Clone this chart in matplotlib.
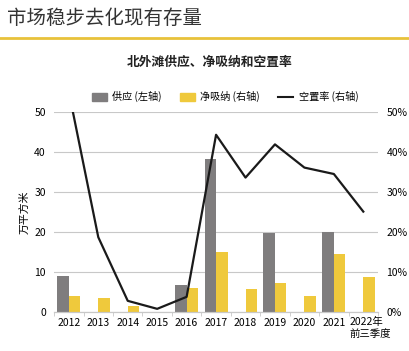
import matplotlib
matplotlib.use("Agg")
import matplotlib.pyplot as plt
from matplotlib.lines import Line2D
from matplotlib.patches import Patch
from matplotlib.transforms import blended_transform_factory
import numpy

plt.rcParams["font.family"] = ["Noto Sans CJK SC", "DejaVu Sans"]

# Data
years = ["2012", "2013", "2014", "2015", "2016", "2017", "2018", "2019",
         "2020", "2021", "2022年\n前三季度"]
supply = [9.1, 0, 0, 0, 6.7, 38.2, 0, 19.7, 0, 20.0, 0]           # 万平方米
absorption = [4.1, 3.4, 1.5, 0.1, 6.1, 14.9, 5.8, 7.2, 4.1, 14.5, 8.8]
vacancy = [55.0, 18.7, 2.8, 0.8, 3.8, 44.3, 33.6, 41.9, 36.1, 34.5, 25.1]  # %

GRAY = "#7f7d7e"
YELLOW = "#efc93c"
GRID = "#c8c8c8"

fig = plt.figure(figsize=(4.10, 3.51), dpi=100, facecolor="white")

# Header
fig.text(0.018, 0.948, "市场稳步去化现有存量", fontsize=14, color="#333333",
         ha="left", va="center")
fig.add_artist(Line2D([0, 1], [0.892, 0.892], color="#e8c23a", linewidth=2))
fig.text(0.512, 0.823, "北外滩供应、净吸纳和空置率", fontsize=9.2, color="#222222",
         ha="center", va="center", fontweight="bold")

ax1 = fig.add_axes([0.132, 0.111, 0.790, 0.570])
ax2 = ax1.twinx()

x = numpy.arange(len(years))
w = 0.39
ax1.bar(x - w / 2, supply, w, color=GRAY, zorder=2)
ax1.bar(x + w / 2, absorption, w, color=YELLOW, zorder=2)
ax2.plot(x, vacancy, color="#1a1a1a", linewidth=1.6, zorder=3)

ax1.set_xlim(-0.5, len(years) - 0.5)
ax1.set_ylim(0, 50)
ax2.set_ylim(0, 50)
ax1.set_yticks(numpy.arange(0, 51, 10))
ax2.set_yticks(numpy.arange(0, 51, 10))
ax2.set_yticklabels(["{}%".format(v) for v in range(0, 51, 10)])

# x labels: last label is two lines, left-aligned under its group
ax1.set_xticks(x)
ax1.set_xticklabels(years[:-1] + [""])
trans = blended_transform_factory(ax1.transData, ax1.transAxes)
ax1.text(x[-1] - 0.48, -0.022, years[-1], transform=trans, ha="left", va="top",
         fontsize=7.5, linespacing=1.35)
ax1.set_xticks(numpy.arange(-0.5, len(years), 1), minor=True)
ax1.tick_params(axis="x", which="major", length=0, pad=4, labelsize=7.5)
ax1.tick_params(axis="x", which="minor", length=3, color=GRID)
ax1.tick_params(axis="y", length=0, labelsize=7.5, pad=6)
ax2.tick_params(axis="y", length=0, labelsize=7.5, pad=6)

ax1.grid(axis="y", color=GRID, linewidth=0.8, zorder=0)
ax1.set_axisbelow(True)
for ax in (ax1, ax2):
    for side in ("left", "right", "top"):
        ax.spines[side].set_visible(False)
    ax.spines["bottom"].set_color(GRID)

ax1.set_ylabel("万平方米", fontsize=7.8, labelpad=3)

handles = [
    Patch(color=GRAY, label="供应 (左轴)"),
    Patch(color=YELLOW, label="净吸纳 (右轴)"),
    Line2D([0], [0], color="#1a1a1a", linewidth=1.5, label="空置率 (右轴)"),
]
fig.legend(handles=handles, loc="center", bbox_to_anchor=(0.549, 0.724), ncol=3,
           frameon=False, fontsize=7.3, handlelength=1.5, handleheight=0.8,
           columnspacing=1.8, handletextpad=0.5)

fig.savefig("out.png", dpi=100, facecolor="white")
